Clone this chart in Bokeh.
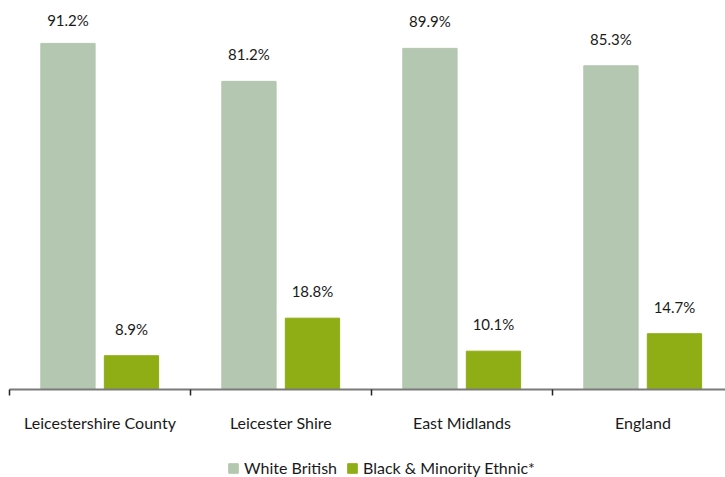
from bokeh.plotting import figure
from bokeh.layouts import column
from bokeh.models import ColumnDataSource, FixedTicker, Range1d, Legend, LegendItem
from bokeh.core.properties import value
from bokeh.embed import file_html
from bokeh.resources import INLINE

categories = ["Leicestershire County", "Leicester Shire", "East Midlands", "England"]
white_british = [91.2, 81.2, 89.9, 85.3]
bme = [8.9, 18.8, 10.1, 14.7]
series_names = ["White British", "Black & Minority Ethnic*"]

FONT = "Lato"
C_WB = "#b4c7b0"
C_BME = "#8fad15"
LABEL_GAP = 7.1     # label distance above bar (value units)
LABEL_CAP = 97.3    # labels may not go above the plot area's top

centers = [i + 0.5 for i in range(len(categories))]
x_wb = [c - 0.177 for c in centers]
x_bme = [c + 0.174 for c in centers]

def lab_pos(vals):
    return [min(v + LABEL_GAP, LABEL_CAP) for v in vals]

src_wb = ColumnDataSource(dict(x=x_wb, top=white_british, ly=lab_pos(white_british),
                               lab=[f"{v:.1f}%" for v in white_british]))
src_bme = ColumnDataSource(dict(x=x_bme, top=bme, ly=lab_pos(bme),
                                lab=[f"{v:.1f}%" for v in bme]))

p = figure(width=725, height=447, output_backend="svg", toolbar_location=None,
           x_range=Range1d(0, 3.956), y_range=Range1d(0, 100.4),
           min_border_left=9, min_border_right=0, min_border_top=8, min_border_bottom=58)

p.vbar(x="x", top="top", width=0.30, source=src_wb, color=C_WB)
p.vbar(x="x", top="top", width=0.30, source=src_bme, color=C_BME)

for s in (src_wb, src_bme):
    p.text(x="x", y="ly", text="lab", source=s,
           text_align="center", text_baseline="middle",
           text_font=value(FONT), text_font_size="15px", text_color="#1a1a1a")

p.xaxis.ticker = FixedTicker(ticks=centers, minor_ticks=[0, 1, 2, 3])
p.xaxis.major_label_overrides = {c: n for c, n in zip(centers, categories)}
p.xaxis.major_tick_out = 0
p.xaxis.major_tick_in = 0
p.xaxis.minor_tick_out = 6
p.xaxis.minor_tick_in = 0
p.xaxis.minor_tick_line_color = "#222222"
p.xaxis.minor_tick_line_width = 1.5
p.xaxis.axis_line_color = "#7a7a7a"
p.xaxis.axis_line_width = 2
p.xaxis.major_label_text_font = FONT
p.xaxis.major_label_text_font_size = "16px"
p.xaxis.major_label_text_color = "#1a1a1a"
p.xaxis.major_label_standoff = 17
p.yaxis.visible = False
p.grid.visible = False
p.outline_line_color = None

# legend strip below the chart (its swatch renderers sit outside the visible range)
p2 = figure(width=725, height=30, output_backend="svg", toolbar_location=None,
            x_range=Range1d(0, 1), y_range=Range1d(0, 1),
            min_border_left=0, min_border_right=0, min_border_top=0, min_border_bottom=0)
p2.axis.visible = False
p2.grid.visible = False
p2.outline_line_color = None
l1 = p2.vbar(x=[10], top=[0.5], width=0.1, color=C_WB)
l2 = p2.vbar(x=[10], top=[0.5], width=0.1, color=C_BME)
legend = Legend(items=[LegendItem(label=series_names[0], renderers=[l1]),
                       LegendItem(label=series_names[1], renderers=[l2])],
                orientation="horizontal", location=(218, 0),
                glyph_width=12, glyph_height=12, label_standoff=5, spacing=9,
                label_text_font=FONT, label_text_font_size="16px",
                label_text_color="#1a1a1a", border_line_color=None,
                background_fill_alpha=0, padding=0, margin=0)
p2.add_layout(legend, "center")

layout = column(p, p2, spacing=0)
open("out.html", "w").write(file_html(layout, INLINE))
